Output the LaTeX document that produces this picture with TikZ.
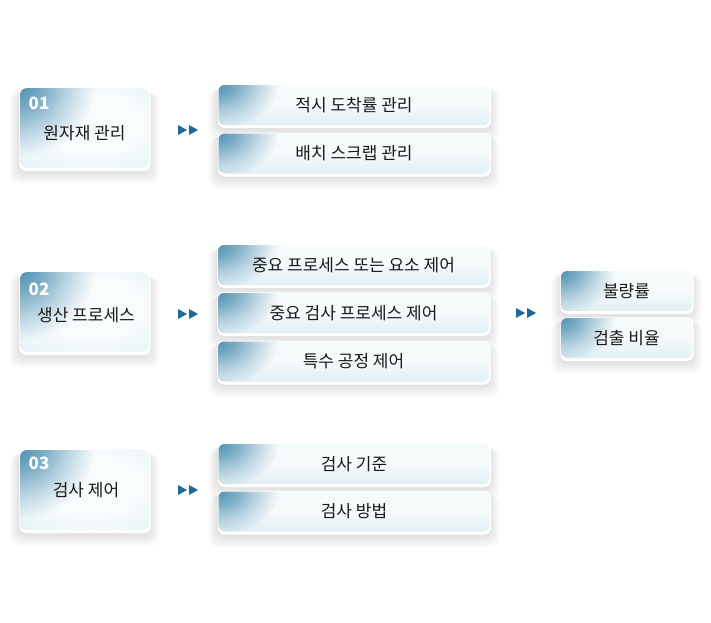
\documentclass[tikz,border=0pt]{standalone}
\usepackage{fontspec}
\setmainfont{Noto Sans CJK KR}
\usetikzlibrary{fadings,calc,backgrounds}

\definecolor{cblue}{RGB}{84,148,180}
\definecolor{cin}{RGB}{248,252,253}
\definecolor{cmid}{RGB}{232,243,247}
\definecolor{cout}{RGB}{200,226,236}
\definecolor{rtop}{RGB}{245,250,251}
\definecolor{rbot}{RGB}{226,239,244}
\definecolor{carrow}{RGB}{30,106,150}
\definecolor{ctext}{RGB}{25,25,25}

\pgfdeclareradialshading{cornerglow}{\pgfpoint{0bp}{0bp}}{color(0bp)=(white); color(12bp)=(white!75!black); color(26bp)=(white!35!black); color(40bp)=(black); color(50bp)=(black)}
\pgfdeclarefading{cornerfade}{\pgfuseshading{cornerglow}}
\pgfdeclareradialshading{leftbg}{\pgfpoint{4bp}{4bp}}{color(0bp)=(cin); color(18bp)=(cin); color(36bp)=(cmid); color(50bp)=(cout); color(72bp)=(cout)}

\newcommand\dblarrow[2]{%
  \fill[carrow] (#1,#2-5) -- ++(9,5) -- ++(-9,5) -- cycle;
  \fill[carrow] (#1+11,#2-5) -- ++(9,5) -- ++(-9,5) -- cycle;}

\tikzset{
  boxbase/.style={rounded corners=7pt, inner sep=0pt, text=ctext,
    font=\fontsize{17pt}{20pt}\selectfont},
  glow/.style n args={2}{path picture={\fill[cblue, path fading=cornerfade, fit fading=false,
      fading transform={shift={(path picture bounding box.north west)}, xscale=#1, yscale=#2}]
      (path picture bounding box.north west) rectangle ++(44*#1,44*#2);}},
  leftbox/.style={boxbase, minimum width=129pt, minimum height=80pt,
    shading=leftbg, glow={1.85}{1.7}},
  midbox/.style={boxbase, rounded corners=6pt, minimum width=271pt, minimum height=40pt,
    top color=rtop, bottom color=rbot, middle color=rtop, glow={1.5}{1.1}},
  endbox/.style={boxbase, rounded corners=6pt, minimum width=131pt, minimum height=40pt,
    top color=rtop, bottom color=rbot, middle color=rtop, glow={1.35}{1.1}},
  numlabel/.style={text=white, inner sep=0pt, font=\fontsize{17pt}{17pt}\selectfont\bfseries},
  txt/.style={inner sep=0pt, text=ctext, font=\fontsize{17pt}{20pt}\selectfont}
}

\begin{document}
\begin{tikzpicture}[x=1pt,y=-1pt]
\useasboundingbox (0,0) rectangle (711,622);

% left column
\node[leftbox] (b1) at (84.5,128) {};
\node[leftbox] (b2) at (84.5,312) {};
\node[leftbox] (b3) at (84.5,490) {};
\node[txt] (t1) at (84.5,133) {원자재 관리};
\node[txt] (t2) at (86,315) {생산 프로세스};
\node[txt] (t3) at (86,490) {검사 제어};
\node[numlabel, anchor=base west] (n1) at (28.5,109) {01};
\node[numlabel, anchor=base west] (n2) at (28.5,295) {02};
\node[numlabel, anchor=base west] (n3) at (28.5,469) {03};

% middle column
\node[midbox] (m1) at (354,105) {적시 도착률 관리};
\node[midbox] (m2) at (354,153.5) {배치 스크랩 관리};
\node[midbox] (m3) at (353.5,265) {중요 프로세스 또는 요소 제어};
\node[midbox] (m4) at (353.5,313) {중요 검사 프로세스 제어};
\node[midbox] (m5) at (353.5,361.5) {특수 공정 제어};
\node[midbox] (m6) at (354,464) {검사 기준};
\node[midbox] (m7) at (354,511.5) {검사 방법};

% right column
\node[endbox] (e1) at (626.5,291) {불량률};
\node[endbox] (e2) at (626.5,338) {검출 비율};

% arrows
\dblarrow{178}{130}
\dblarrow{178}{314}
\dblarrow{178}{490}
\dblarrow{516}{313}

\begin{scope}[on background layer]
\fill[white] (0,0) rectangle (711,622);
\foreach \n in {b1,b2,b3,m1,m2,m3,m4,m5,m6,m7,e1,e2}{
  \foreach \i in {1,...,10}{
    \fill[black, opacity=0.011, rounded corners=9pt]
      ($(\n.north west)+(-\i*1.0,2+\i*0.2)$) rectangle ($(\n.south east)+(\i*1.0,3+\i*1.3)$);
  }
  \fill[white, rounded corners=7pt]
    ($(\n.north west)+(-0.5,-0.5)$) rectangle ($(\n.south east)+(1.5,2.8)$);
}
\end{scope}
\end{tikzpicture}
\end{document}
